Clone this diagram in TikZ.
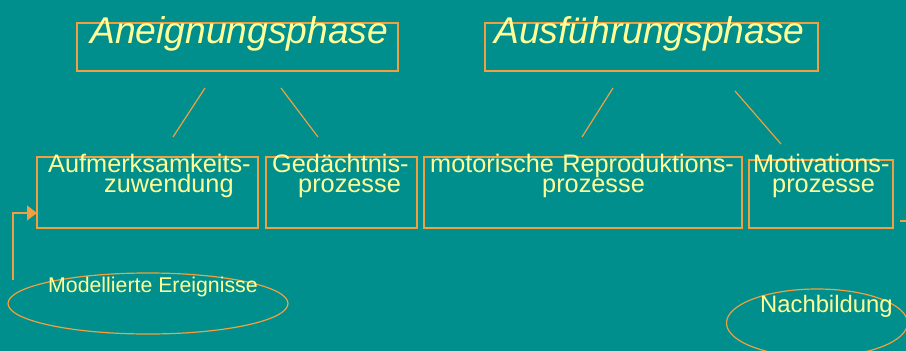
\documentclass[tikz,border=0pt]{standalone}
\usepackage{fontspec}
\setmainfont{Liberation Sans}
\usetikzlibrary{arrows.meta,shapes.geometric}
\definecolor{bg}{HTML}{008F8C}
\definecolor{txt}{HTML}{FFFF99}
\definecolor{ln}{HTML}{F0A040}
\begin{document}
\begin{tikzpicture}[x=1pt,y=-1pt,
  box/.style={draw=ln, line width=1.2pt, inner sep=0pt, outer sep=0pt, anchor=north west},
  oval/.style={ellipse, draw=ln, line width=1.2pt, inner sep=0pt},
  conn/.style={draw=ln, line width=1.2pt},
  head/.style={anchor=base west, inner sep=0pt, text=txt, font=\itshape\fontsize{37.2}{37.2}\selectfont},
  lbl/.style={anchor=base west, inner sep=0pt, text=txt, text width=320pt, align=left, font=\fontsize{25.3}{20}\selectfont},
  small/.style={anchor=base west, inner sep=0pt, text=txt, font=\fontsize{21.3}{21.3}\selectfont}]
\fill[bg] (0,0) rectangle (906,351);
\useasboundingbox (0,0) rectangle (906,351);
% top boxes
\node[box, minimum width=321pt, minimum height=48pt] (h1) at (77,23) {};
\node[box, minimum width=333pt, minimum height=48pt] (h2) at (485,23) {};
\node[head] (h1t) at (90,43) {Aneignungsphase};
\node[head] (h2t) at (494,43) {Ausführungsphase};
% second row boxes
\node[box, minimum width=221pt, minimum height=71pt] (b1) at (37,157) {};
\node[box, minimum width=151pt, minimum height=71pt] (b2) at (266,157) {};
\node[box, minimum width=318pt, minimum height=71pt] (b3) at (424,157) {};
\node[box, minimum width=144pt, minimum height=68pt] (b4) at (749,160) {};
\node[lbl] (b1t) at (48,172) {Aufmerksamkeits-\\\hspace*{56pt}zuwendung};
\node[lbl] (b2t) at (272,172) {Gedächtnis-\\\hspace*{26pt}prozesse};
\node[lbl] (b3t) at (430,172) {motorische Reproduktions-\\\hspace*{112pt}prozesse};
\node[lbl] (b4t) at (753,172) {Motivations-\\\hspace*{19pt}prozesse};
% connector lines
\coordinate (l1a) at (205,88); \coordinate (l1b) at (173,137);
\coordinate (l2a) at (281,88); \coordinate (l2b) at (318,137);
\coordinate (l3a) at (613,88); \coordinate (l3b) at (582,137);
\coordinate (l4a) at (735,91); \coordinate (l4b) at (781,144);
\draw[conn] (l1a) -- (l1b);
\draw[conn] (l2a) -- (l2b);
\draw[conn] (l3a) -- (l3b);
\draw[conn] (l4a) -- (l4b);
% ellipses
\node[oval, minimum width=280pt, minimum height=61pt] (e1) at (148,303.5) {};
\node[oval, minimum width=181pt, minimum height=68pt] (e2) at (817,323) {};
\node[small] (e1t) at (48,292) {Modellierte Ereignisse};
\node[small, font=\fontsize{23.8}{23.8}\selectfont] (e2t) at (760,312) {Nachbildung};
% arrow into first box
\coordinate (a0) at (13,280);
\coordinate (a1) at (13,213);
\draw[conn, -{Triangle[length=10pt,width=15pt]}] (a0) -- (a1) -- (b1.west |- a1);
% stub at right edge
\coordinate (r0) at (900,221);
\coordinate (r1) at (912,221);
\draw[conn] (r0) -- (r1);
\end{tikzpicture}
\end{document}
